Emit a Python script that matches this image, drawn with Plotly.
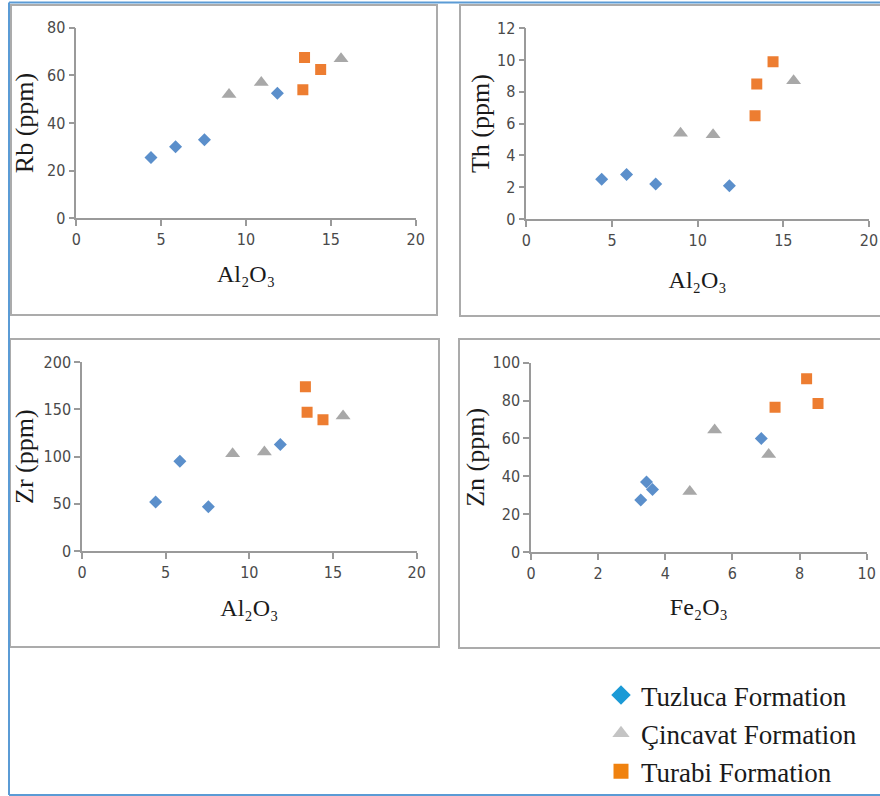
import plotly.graph_objects as go

# ---------------- data ----------------
formations = ["Tuzluca Formation", "Çincavat Formation", "Turabi Formation"]

tuz_al2o3 = [4.4, 5.85, 7.55, 11.85]
tuz_rb = [25.5, 30.0, 33.0, 52.5]
tuz_th = [2.5, 2.8, 2.2, 2.1]
tuz_zr = [52, 95, 47, 113]
tuz_fe2o3 = [3.27, 3.44, 3.62, 6.86]
tuz_zn = [27.5, 37.0, 33.0, 60.0]

cin_al2o3 = [9.0, 10.9, 15.6]
cin_rb = [52.0, 57.0, 67.0]
cin_th = [5.4, 5.3, 8.7]
cin_zr = [103, 105, 143]
cin_fe2o3 = [4.73, 5.47, 7.08]
cin_zn = [32.0, 64.5, 51.5]

tur_al2o3 = [13.35, 13.45, 14.4]
tur_rb = [54.0, 67.5, 62.5]
tur_th = [6.5, 8.5, 9.9]
tur_zr = [174, 147, 139]
tur_fe2o3 = [7.27, 8.21, 8.55]
tur_zn = [76.5, 91.5, 78.5]

W, H = 880, 796

def px(x):
    return x / W

def py(y):
    return 1 - y / H

COL = {"tuz": "#5B8FCB", "cin": "#A8A8A8", "tur": "#ED7D31"}
SYM = {"tuz": "diamond", "cin": "triangle-up", "tur": "square"}
SIZE = {"tuz": 10, "cin": 13, "tur": 11}

fig = go.Figure()

panels = [
    ("", {"tuz": tuz_al2o3, "cin": cin_al2o3, "tur": tur_al2o3},
         {"tuz": tuz_rb, "cin": cin_rb, "tur": tur_rb}),
    ("2", {"tuz": tuz_al2o3, "cin": cin_al2o3, "tur": tur_al2o3},
          {"tuz": tuz_th, "cin": cin_th, "tur": tur_th}),
    ("3", {"tuz": tuz_al2o3, "cin": cin_al2o3, "tur": tur_al2o3},
          {"tuz": tuz_zr, "cin": cin_zr, "tur": tur_zr}),
    ("4", {"tuz": tuz_fe2o3, "cin": cin_fe2o3, "tur": tur_fe2o3},
          {"tuz": tuz_zn, "cin": cin_zn, "tur": tur_zn}),
]

for suf, xs, ys in panels:
    for key, name in zip(["tuz", "cin", "tur"], formations):
        fig.add_trace(go.Scatter(
            x=xs[key], y=ys[key], mode="markers", name=name,
            xaxis="x" + suf, yaxis="y" + suf, showlegend=False,
            marker=dict(symbol=SYM[key], color=COL[key], size=SIZE[key]),
        ))

# legend entries (legend styling differs slightly from plotted markers)
LEG_COL = {"tuz": "#1B9AD6", "cin": "#C4C4C4", "tur": "#F0820F"}
for key, name in zip(["tuz", "cin", "tur"], formations):
    fig.add_trace(go.Scatter(
        x=[None], y=[None], mode="markers", name=name, showlegend=True,
        marker=dict(symbol=SYM[key], color=LEG_COL[key], size=15),
    ))

tick_font = dict(family="Liberation Sans Narrow, DejaVu Sans Condensed, sans-serif",
                 size=16, color="#4A4A4A")
serif = "Liberation Serif, Times New Roman, serif"
xtitle_font = dict(family=serif, size=24, color="#1A1A1A")
ytitle_font = dict(family=serif, size=26, color="#1A1A1A")

def axis(domain, rng, dtick, title, anchor, standoff, tfont):
    return dict(domain=domain, range=rng, dtick=dtick, tick0=0,
                showgrid=False, zeroline=False, showline=True,
                linecolor="#9A9A9A", linewidth=1.5,
                ticks="outside", ticklen=6, tickcolor="#9A9A9A", tickwidth=1.5,
                tickfont=tick_font, anchor=anchor, automargin=False,
                title=dict(text=title, font=tfont, standoff=standoff))

AL = "Al₂O₃"
FE = "Fe₂O₃"

layout = dict(
    width=W, height=H,
    margin=dict(l=0, r=0, t=0, b=0, autoexpand=False),
    paper_bgcolor="white", plot_bgcolor="white",
    xaxis=axis([px(76.3), px(415.7)], [0, 20], 5, AL, "y", 17, xtitle_font),
    yaxis=axis([py(218.3), py(27.7)], [0, 80], 20, "Rb (ppm)", "x", 6, ytitle_font),
    xaxis2=axis([px(526.3), px(869)], [0, 20], 5, AL, "y2", 22, xtitle_font),
    yaxis2=axis([py(219), py(28.3)], [0, 12], 2, "Th (ppm)", "x2", 0, ytitle_font),
    xaxis3=axis([px(82), px(416.7)], [0, 20], 5, AL, "y3", 18, xtitle_font),
    yaxis3=axis([py(551), py(362.3)], [0, 200], 50, "Zr (ppm)", "x3", 2, ytitle_font),
    xaxis4=axis([px(531), px(866.7)], [0, 10], 2, FE, "y4", 16, xtitle_font),
    yaxis4=axis([py(552), py(362.7)], [0, 100], 20, "Zn (ppm)", "x4", 0, ytitle_font),
    legend=dict(x=px(601), y=0, xanchor="left", yanchor="bottom",
                bgcolor="rgba(0,0,0,0)",
                font=dict(family=serif, size=27, color="#1A1A1A"),
                tracegroupgap=0),
    showlegend=True,
)
fig.update_layout(**layout)

# panel frames
frames = [(11, 5, 437, 315), (460, 5, 886, 316), (10, 339, 439, 647), (459, 339, 886, 648)]
shapes = []
for x0, y0, x1, y1 in frames:
    shapes.append(dict(type="rect", xref="paper", yref="paper",
                       x0=px(x0), x1=px(x1), y0=py(y1), y1=py(y0),
                       line=dict(color="#ABABAB", width=2), layer="below"))
# outer blue border
blue = "#5B9BD5"
shapes.append(dict(type="line", xref="paper", yref="paper", x0=px(9), x1=px(9),
                   y0=py(795), y1=py(2.5), line=dict(color=blue, width=2)))
shapes.append(dict(type="line", xref="paper", yref="paper", x0=px(9), x1=px(882),
                   y0=py(2.5), y1=py(2.5), line=dict(color=blue, width=2)))
shapes.append(dict(type="line", xref="paper", yref="paper", x0=px(9), x1=px(882),
                   y0=py(795), y1=py(795), line=dict(color=blue, width=2)))
fig.update_layout(shapes=shapes)

fig.write_html("out.html")
